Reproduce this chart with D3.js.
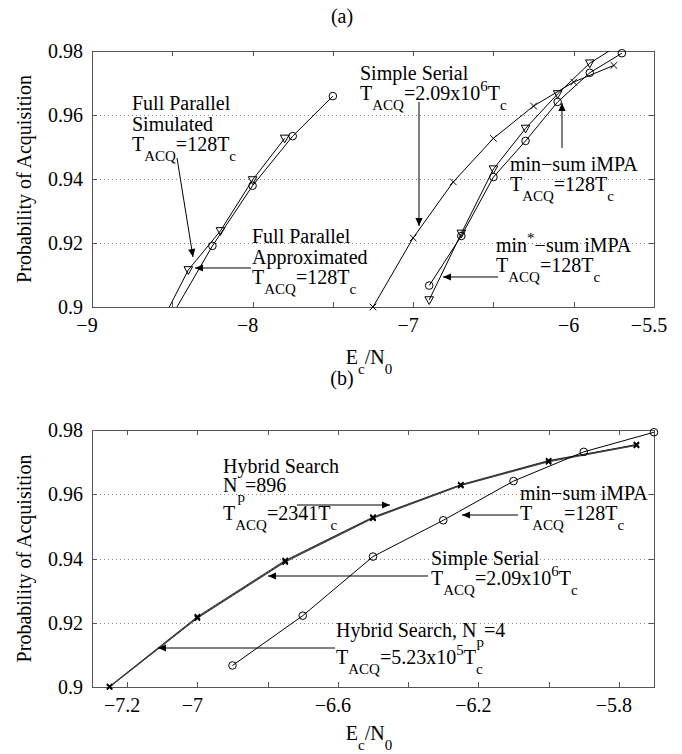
<!DOCTYPE html>
<html>
<head>
<meta charset="utf-8">
<script src="https://cdn.jsdelivr.net/npm/d3@7"></script>
<style>
  html, body { margin: 0; padding: 0; background: #fff; }
  svg { display: block; }
  svg text { font-family: "Liberation Serif", "Times New Roman", Times, serif; }
</style>
</head>
<body>
<svg id="chart" width="682" height="754" font-family="Liberation Serif, Times New Roman, Times, serif"></svg>
<script>
// ---------------- DATA ----------------
// Panel (a)
const fpSimX    = [-8.6, -8.4, -8.2, -8.0, -7.8];
const fpSimY    = [0.892, 0.9116, 0.9238, 0.9397, 0.9527];
const fpApproxX = [-8.5, -8.25, -8.0, -7.75, -7.5];
const fpApproxY = [0.8975, 0.9191, 0.9379, 0.9534, 0.9659];
const serialX   = [-7.25, -7.0, -6.75, -6.5, -6.25, -6.0, -5.75];
const serialY   = [0.9, 0.9216, 0.9391, 0.9527, 0.9628, 0.9703, 0.9755];
const minSumX   = [-6.9, -6.7, -6.5, -6.3, -6.1, -5.9, -5.7];
const minSumY   = [0.9067, 0.9222, 0.9406, 0.9519, 0.9641, 0.9732, 0.9793];
const minStarX  = [-6.9, -6.7, -6.5, -6.3, -6.1, -5.9, -5.7];
const minStarY  = [0.9022, 0.923, 0.9431, 0.9558, 0.9666, 0.9762, 0.9825];
// Panel (b)
const hybX      = [-7.25, -7.0, -6.75, -6.5, -6.25, -6.0, -5.75];
const serialBY  = [0.9, 0.9216, 0.9391, 0.9527, 0.9628, 0.9703, 0.9755];
const hyb896Y   = [0.9002, 0.9219, 0.9394, 0.9529, 0.9630, 0.9705, 0.9753];
const hyb4Y     = [0.9, 0.9214, 0.9389, 0.9525, 0.9627, 0.9701, 0.9752];
const minSumBX  = [-6.9, -6.7, -6.5, -6.3, -6.1, -5.9, -5.7];
const minSumBY  = [0.9067, 0.9222, 0.9406, 0.9519, 0.9641, 0.9732, 0.9793];
// Ticks
const xTicksA      = [-9, -8.5, -8, -7.5, -7, -6.5, -6, -5.5];
const xTickLabelsA = {"-9": "\u22129", "-8": "\u22128", "-7": "\u22127", "-6": "\u22126", "-5.5": "\u22125.5"};
const xTicksB      = [-7.2, -7.0, -6.8, -6.6, -6.4, -6.2, -6.0, -5.8];
const xTickLabelsB = {"-7.2": "\u22127.2", "-7": "\u22127", "-6.6": "\u22126.6", "-6.2": "\u22126.2", "-5.8": "\u22125.8"};
const yTicks       = [0.9, 0.92, 0.94, 0.96, 0.98];
const yTickLabels  = ["0.9", "0.92", "0.94", "0.96", "0.98"];
const gridY        = [0.92, 0.94, 0.96];

// ---------------- SETUP ----------------
const FONT = "'Liberation Serif', 'Times New Roman', Times, serif";
const svg = d3.select("#chart");
const FS = 20, SFS = 15, SUB = 10, SUP = -9;

const defs = svg.append("defs");
defs.append("marker").attr("id", "ah")
  .attr("viewBox", "0 0 10 10").attr("refX", 10).attr("refY", 5)
  .attr("markerWidth", 9).attr("markerHeight", 8).attr("markerUnits", "userSpaceOnUse")
  .attr("orient", "auto")
  .append("path").attr("d", "M0,0.5 L10,5 L0,9.5 Z").attr("fill", "#000");

function txt(g) {
  return g.append("text").attr("font-family", FONT).attr("font-size", FS).attr("fill", "#000");
}

function rich(g, x, y, parts, anchor) {
  const t = txt(g).attr("x", x).attr("y", y).attr("text-anchor", anchor || "start");
  let cur = 0;
  parts.forEach(p => {
    const str = typeof p === "string" ? p : p[0];
    const type = typeof p === "string" ? null : p[1];
    const target = type === "sub" ? SUB : type === "sup" ? SUP : 0;
    const ts = t.append("tspan").attr("dy", target - cur).text(str);
    if (type) ts.attr("font-size", SFS);
    cur = target;
  });
  return t;
}

function panel(cfg) {
  const { id, box, xDom, xTicks, xLabels, title, titleY } = cfg;
  const x = d3.scaleLinear().domain(xDom).range([box.left, box.right]);
  const y = d3.scaleLinear().domain([0.9, 0.98]).range([box.bottom, box.top]);
  const g = svg.append("g");

  defs.append("clipPath").attr("id", "clip" + id)
    .append("rect").attr("x", box.left).attr("y", box.top)
    .attr("width", box.right - box.left).attr("height", box.bottom - box.top);

  // grid
  g.selectAll(".grid").data(gridY).join("line")
    .attr("x1", box.left).attr("x2", box.right)
    .attr("y1", d => Math.round(y(d)) + 0.5).attr("y2", d => Math.round(y(d)) + 0.5)
    .attr("stroke", "#8a8a8a").attr("stroke-width", 1).attr("stroke-dasharray", "1,3");

  // box
  g.append("rect").attr("x", box.left + 0.5).attr("y", box.top + 0.5)
    .attr("width", box.right - box.left).attr("height", box.bottom - box.top)
    .attr("fill", "none").attr("stroke", "#555").attr("stroke-width", 1);

  // x ticks (bottom & top, inward)
  const TL = 5;
  xTicks.forEach(t => {
    const px = Math.round(x(t)) + 0.5;
    g.append("line").attr("x1", px).attr("x2", px).attr("y1", box.bottom + 0.5).attr("y2", box.bottom - TL)
      .attr("stroke", "#555");
    g.append("line").attr("x1", px).attr("x2", px).attr("y1", box.top + 0.5).attr("y2", box.top + TL)
      .attr("stroke", "#555");
    const lab = xLabels[String(t)];
    if (lab) {
      txt(g).attr("x", x(t) - 5).attr("y", box.bottom + 25)
        .attr("text-anchor", "middle").text(lab);
    }
  });
  // y ticks
  yTicks.forEach((t, i) => {
    const py = Math.round(y(t)) + 0.5;
    g.append("line").attr("x1", box.left + 0.5).attr("x2", box.left + TL).attr("y1", py).attr("y2", py)
      .attr("stroke", "#555");
    g.append("line").attr("x1", box.right + 0.5).attr("x2", box.right - TL).attr("y1", py).attr("y2", py)
      .attr("stroke", "#555");
    txt(g).attr("x", box.left - 9).attr("y", y(t) + 7)
      .attr("text-anchor", "end").text(yTickLabels[i]);
  });

  // axis labels
  txt(g).attr("transform", `translate(31,${(box.top + box.bottom) / 2}) rotate(-90)`)
    .attr("text-anchor", "middle").text("Probability of Acquisition");
  rich(g, (box.left + box.right) / 2 - 4, cfg.xLabelY, ["E", ["c", "sub"], "/N", ["0", "sub"]], "middle");

  // title
  txt(svg).attr("x", 342).attr("y", titleY).attr("text-anchor", "middle").text(title);

  const plot = g.append("g").attr("clip-path", `url(#clip${id})`);
  const line = d3.line().x(d => x(d[0])).y(d => y(d[1]));
  const inside = d => d[1] >= 0.8999 && d[1] <= 0.9801;

  function series(xs, ys, marker, opts) {
    const pts = xs.map((v, i) => [v, ys[i]]);
    plot.append("path").datum(pts).attr("d", line)
      .attr("fill", "none").attr("stroke", (opts && opts.color) || "#000")
      .attr("stroke-width", (opts && opts.w) || 1);
    const mg = g.append("g");
    pts.filter(inside).forEach(d => {
      const cx = x(d[0]), cy = y(d[1]);
      if (marker === "o") {
        mg.append("circle").attr("cx", cx).attr("cy", cy).attr("r", 3.8)
          .attr("fill", "none").attr("stroke", "#000").attr("stroke-width", 1);
      } else if (marker === "v") {
        const s = 4.3;
        mg.append("path").attr("d", `M${cx - s},${cy - s * 0.75} L${cx + s},${cy - s * 0.75} L${cx},${cy + s * 1.05} Z`)
          .attr("fill", "none").attr("stroke", "#000").attr("stroke-width", 1);
      } else if (marker === "x") {
        const s = (opts && opts.ms) || 3.3;
        mg.append("path").attr("d", `M${cx - s},${cy - s} L${cx + s},${cy + s} M${cx - s},${cy + s} L${cx + s},${cy - s}`)
          .attr("stroke", "#000").attr("stroke-width", (opts && opts.mw) || 1);
      }
    });
  }

  function arrow(x1, y1, x2, y2) {
    g.append("line").attr("x1", x(x1)).attr("y1", y(y1)).attr("x2", x(x2)).attr("y2", y(y2))
      .attr("stroke", "#000").attr("stroke-width", 1).attr("marker-end", "url(#ah)");
  }
  function label(xv, yv, parts) { return rich(g, x(xv), y(yv), parts); }

  return { x, y, g, series, arrow, label };
}

// ---------------- PANEL (a) ----------------
const A = panel({
  id: "a", box: { left: 92, right: 654, top: 51, bottom: 307 },
  xDom: [-9, -5.5], xTicks: xTicksA, xLabels: xTickLabelsA,
  title: "(a)", titleY: 23, xLabelY: 364
});
A.series(fpSimX, fpSimY, "v");
A.series(fpApproxX, fpApproxY, "o");
A.series(serialX, serialY, "x");
A.series(minSumX, minSumY, "o");
A.series(minStarX, minStarY, "v");

const TACQ128 = ["T", ["ACQ", "sub"], "=128T", ["c", "sub"]];
A.label(-8.751, 0.96156, ["Full Parallel"]);
A.label(-8.751, 0.955, ["Simulated"]);
A.label(-8.751, 0.94875, TACQ128);
A.arrow(-8.4706, 0.94656, -8.371, 0.91563);

A.label(-8.0036, 0.92, ["Full Parallel"]);
A.label(-8.0036, 0.91344, ["Approximated"]);
A.label(-8.0036, 0.90719, TACQ128);
A.arrow(-8.0098, 0.91219, -8.3585, 0.91219);

A.label(-7.331, 0.97094, ["Simple Serial"]);
A.label(-7.331, 0.96469, ["T", ["ACQ", "sub"], "=2.09x10", ["6", "sup"], "T", ["c", "sub"]]);
A.arrow(-6.9635, 0.96406, -6.9635, 0.92531);

A.label(-6.397, 0.9425, ["min\u2212sum iMPA"]);
A.label(-6.397, 0.93625, TACQ128);
A.arrow(-6.073, 0.94969, -6.073, 0.96375);

A.label(-6.484, 0.91719, ["min", ["*", "sup"], "\u2212sum iMPA"]);
A.label(-6.484, 0.91094, TACQ128);
A.arrow(-6.4716, 0.90938, -6.814, 0.90938);

// ---------------- PANEL (b) ----------------
const B = panel({
  id: "b", box: { left: 92, right: 654, top: 430, bottom: 687 },
  xDom: [-7.3, -5.7], xTicks: xTicksB, xLabels: xTickLabelsB,
  title: "(b)", titleY: 385, xLabelY: 740
});
B.series(hybX, hyb896Y, "x", { color: "#333", ms: 2.6, mw: 1.4 });
B.series(hybX, serialBY, "x", { color: "#222", ms: 2.6, mw: 1.4 });
B.series(hybX, hyb4Y, "x", { color: "#444", ms: 2.6, mw: 1.4 });
B.series(minSumBX, minSumBY, "o");

B.label(-6.927, 0.9666, ["Hybrid Search"]);
B.label(-6.927, 0.9607, ["N", ["p", "sub"], "=896"]);
B.label(-6.927, 0.952, ["T", ["ACQ", "sub"], "=2341T", ["c", "sub"]]);
B.arrow(-6.7164, 0.95665, -6.4516, 0.95665);

B.label(-6.0815, 0.95821, ["min\u2212sum iMPA"]);
B.label(-6.0815, 0.952, TACQ128);
B.arrow(-6.0872, 0.95354, -6.2466, 0.95354);

B.label(-6.3349, 0.9379, ["Simple Serial"]);
B.label(-6.3349, 0.93175, ["T", ["ACQ", "sub"], "=2.09x10", ["6", "sup"], "T", ["c", "sub"]]);
B.arrow(-6.3434, 0.93455, -6.7989, 0.93455);

B.label(-6.6053, 0.91556, ["Hybrid Search, N", ["p", "sub"], "=4"]);
B.label(-6.6053, 0.90716, ["T", ["ACQ", "sub"], "=5.23x10", ["5", "sup"], "T", ["c", "sub"]]);
B.arrow(-6.6082, 0.91214, -7.1121, 0.91214);
</script>
</body>
</html>
